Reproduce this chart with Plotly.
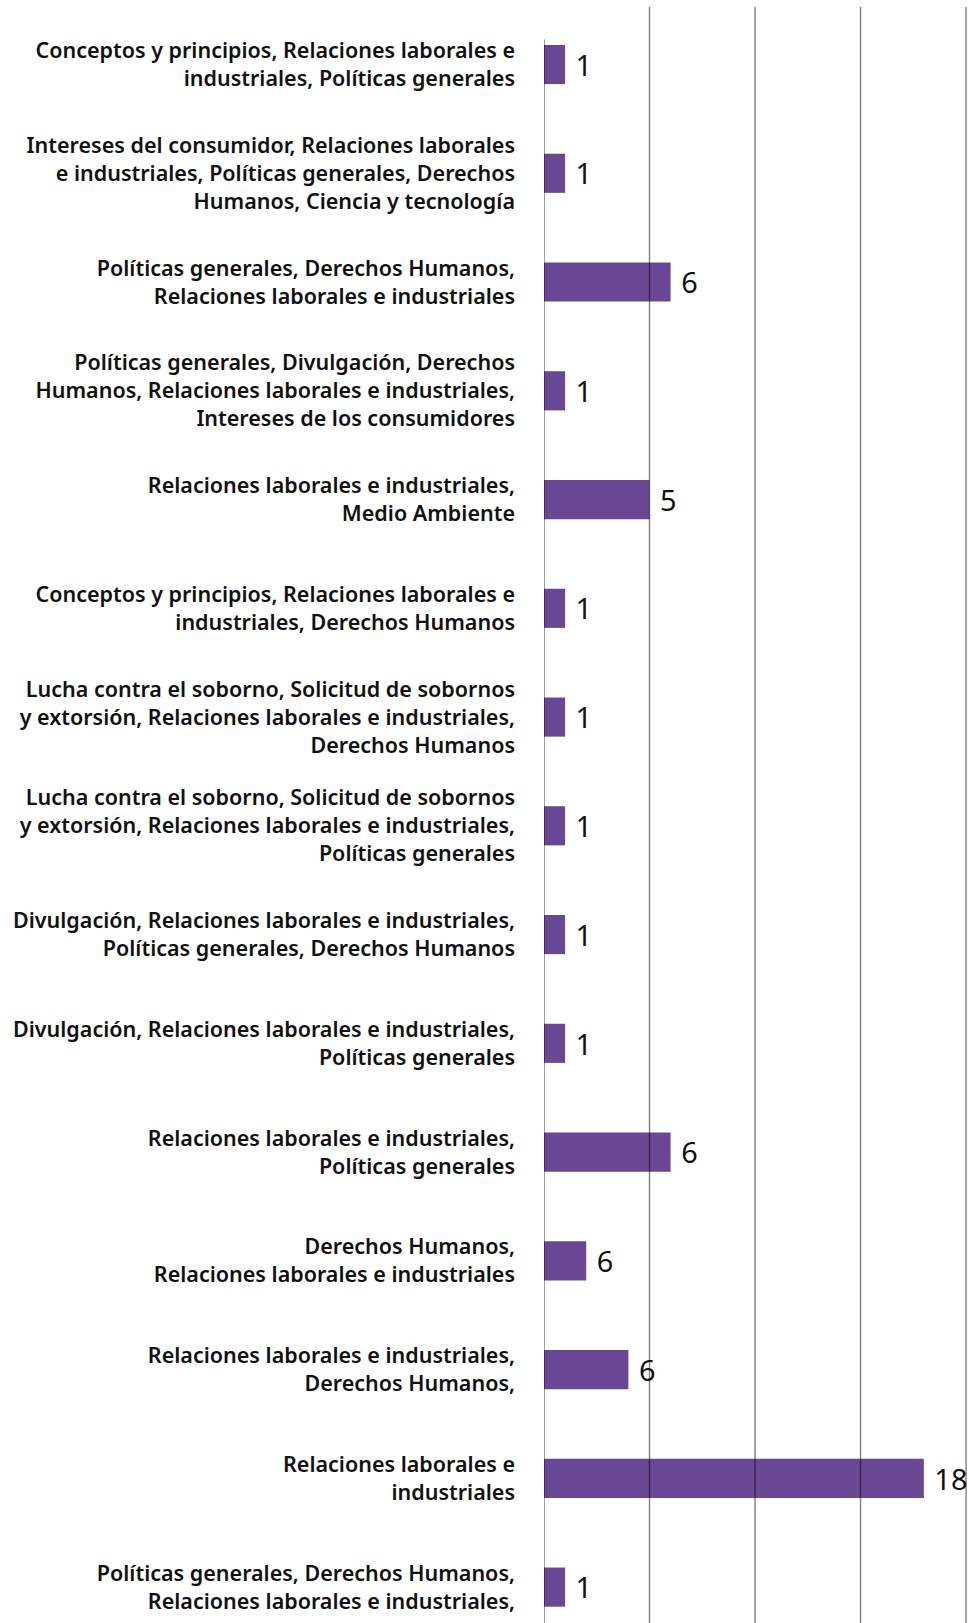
import plotly.graph_objects as go

categories = [
    "Conceptos y principios, Relaciones laborales e<br>industriales, Políticas generales",
    "Intereses del consumidor, Relaciones laborales<br>e industriales, Políticas generales, Derechos<br>Humanos, Ciencia y tecnología",
    "Políticas generales, Derechos Humanos,<br>Relaciones laborales e industriales",
    "Políticas generales, Divulgación, Derechos<br>Humanos, Relaciones laborales e industriales,<br>Intereses de los consumidores",
    "Relaciones laborales e industriales,<br>Medio Ambiente",
    "Conceptos y principios, Relaciones laborales e<br>industriales, Derechos Humanos",
    "Lucha contra el soborno, Solicitud de sobornos<br>y extorsión, Relaciones laborales e industriales,<br>Derechos Humanos",
    "Lucha contra el soborno, Solicitud de sobornos<br>y extorsión, Relaciones laborales e industriales,<br>Políticas generales",
    "Divulgación, Relaciones laborales e industriales,<br>Políticas generales, Derechos Humanos",
    "Divulgación, Relaciones laborales e industriales,<br>Políticas generales",
    "Relaciones laborales e industriales,<br>Políticas generales",
    "Derechos Humanos,<br>Relaciones laborales e industriales",
    "Relaciones laborales e industriales,<br>Derechos Humanos,",
    "Relaciones laborales e<br>industriales",
    "Políticas generales, Derechos Humanos,<br>Relaciones laborales e industriales,",
]
bar_values = [1, 1, 6, 1, 5, 1, 1, 1, 1, 1, 6, 2, 4, 18, 1]
label_values = ["1", "1", "6", "1", "5", "1", "1", "1", "1", "1", "6", "6", "6", "18", "1"]
grid_values = [5, 10, 15, 20]

BAR_COLOR = "#6a4794"

fig = go.Figure(go.Bar(
    y=categories,
    x=bar_values,
    orientation="h",
    marker=dict(color=BAR_COLOR, line=dict(width=0)),
    text=label_values,
    texttemplate="\u00a0%{text}",
    textposition="outside",
    textfont=dict(family="Noto Sans", size=31, color="#111111"),
    cliponaxis=False,
    hoverinfo="skip",
))

shapes = []
for g in grid_values:
    shapes.append(dict(type="line", xref="x", yref="paper", x0=g, x1=g, y0=0, y1=1,
                       line=dict(color="rgba(0,0,0,0.5)", width=1.4), layer="above"))
shapes.append(dict(type="line", xref="x", yref="paper", x0=0, x1=0, y0=0, y1=0.98,
                   line=dict(color="rgba(0,0,0,0.55)", width=1.4), layer="above"))

fig.update_layout(
    width=969, height=1623,
    margin=dict(l=544, r=0, t=7, b=0),
    paper_bgcolor="white", plot_bgcolor="white",
    showlegend=False,
    bargap=0.64,
    shapes=shapes,
    xaxis=dict(range=[0, 20.14], showgrid=False, zeroline=False, showticklabels=False,
               showline=False, fixedrange=True),
    yaxis=dict(type="category", categoryorder="array", categoryarray=categories,
               range=[14.33, -0.529], showgrid=False, zeroline=False, showline=False,
               ticks="", ticklabelstandoff=28,
               tickfont=dict(family="Noto Sans", size=21.5, color="#111111", weight=600)),
)

fig.write_html("out.html")
